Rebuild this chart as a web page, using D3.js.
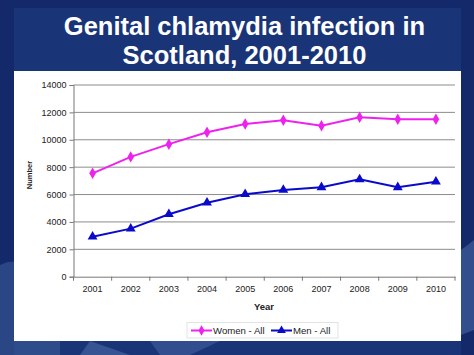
<!DOCTYPE html>
<html><head><meta charset="utf-8">
<script src="https://cdn.jsdelivr.net/npm/d3@7"></script>
<style>body{margin:0;background:#14306f;}svg{display:block;}</style>
</head><body>
<svg id="c" width="474" height="355"></svg>
<script>
const years = ["2001","2002","2003","2004","2005","2006","2007","2008","2009","2010"];
const women = [7550, 8750, 9680, 10550, 11150, 11420, 11030, 11650, 11500, 11500];
const men = [2920, 3510, 4560, 5400, 6020, 6330, 6530, 7110, 6530, 6940];
const yTicks = [0, 2000, 4000, 6000, 8000, 10000, 12000, 14000];
const titleLines = ["Genital chlamydia infection in", "Scotland, 2001-2010"];

const svg = d3.select("#c");
const W = 474, H = 355;
// background
svg.append("rect").attr("width", W).attr("height", H).attr("fill", "#13296a");
svg.append("rect").attr("x", 14).attr("y", 8).attr("width", 447).attr("height", 347).attr("fill", "#1a3577");
// decorative lighter shapes
svg.append("path").attr("d", "M0,265 Q30,250 60,300 L60,355 L0,355 Z").attr("fill", "#3c5a98").attr("opacity", 0.6);
svg.append("path").attr("d", "M90,341 L130,355 L80,355 Z").attr("fill", "#4a68a5").attr("opacity", 0.6);
svg.append("path").attr("d", "M150,341 L220,341 L190,355 L160,355 Z").attr("fill", "#4a68a5").attr("opacity", 0.5);
svg.append("path").attr("d", "M461,250 Q468,245 474,240 L474,330 L461,335 Z").attr("fill", "#4a68a5").attr("opacity", 0.6);

// title
const font = "'Liberation Sans', Arial, sans-serif";
svg.selectAll("text.title").data(titleLines).enter().append("text")
  .attr("x", 244.5).attr("y", (d, i) => 35 + i * 28.5)
  .attr("text-anchor", "middle").attr("fill", "#fff")
  .attr("font-family", font).attr("font-weight", "bold").attr("font-size", 25.5)
  .text(d => d);

// white panel
svg.append("rect").attr("x", 14).attr("y", 71).attr("width", 447).attr("height", 270).attr("fill", "#fff");

const x0 = 73.5, x1 = 455, yTop = 85, yBot = 276.7;
const x = d3.scaleBand().domain(years).range([x0, x1]);
const y = d3.scaleLinear().domain([0, 14000]).range([yBot, yTop]);

const g = svg.append("g");
// gridlines
g.selectAll("line.grid").data(yTicks.filter(t => t > 0)).enter().append("line")
  .attr("x1", x0).attr("x2", x1).attr("y1", d => y(d)).attr("y2", d => y(d))
  .attr("stroke", "#8c8c8c").attr("stroke-width", 1);

// y axis
const yAxis = d3.axisLeft(y).tickValues(yTicks).tickSize(4).tickPadding(3).tickFormat(d3.format("d"));
const ya = g.append("g").attr("transform", `translate(${x0},0)`).call(yAxis);
ya.select(".domain").attr("stroke", "#777");
ya.selectAll(".tick line").attr("stroke", "#777");
ya.selectAll("text").attr("font-family", font).attr("font-size", 9).attr("fill", "#222");

// x axis
const xAxis = d3.axisBottom(x).tickSize(0).tickPadding(9);
const xa = g.append("g").attr("transform", `translate(0,${yBot})`).call(xAxis);
xa.select(".domain").attr("stroke", "#777");
xa.selectAll("text").attr("font-family", font).attr("font-size", 9).attr("fill", "#222");
// x tick marks at band boundaries
const bounds = years.map(d => x(d)).concat([x1]);
xa.selectAll("line.bt").data(bounds).enter().append("line")
  .attr("x1", d => d).attr("x2", d => d).attr("y1", 0).attr("y2", 4).attr("stroke", "#777");

// axis titles
svg.append("text").attr("x", 264).attr("y", 309.5).attr("text-anchor", "middle")
  .attr("font-family", font).attr("font-weight", "bold").attr("font-size", 9.5).attr("fill", "#222").text("Year");
svg.append("text").attr("transform", "translate(31.5,175) rotate(-90)").attr("text-anchor", "middle")
  .attr("font-family", font).attr("font-weight", "bold").attr("font-size", 7.5).attr("fill", "#222").text("Number");

const cx = d => x(d) + x.bandwidth() / 2;
const line = d3.line().x(d => cx(d.year)).y(d => y(d.v));
const series = [
  {name: "Women - All", color: "#ee22ee", sym: d3.symbolDiamond, size: 38, data: years.map((yr, i) => ({year: yr, v: women[i]}))},
  {name: "Men - All", color: "#0a0acc", sym: d3.symbolTriangle, size: 42, data: years.map((yr, i) => ({year: yr, v: men[i]}))}
];
series.forEach(s => {
  g.append("path").datum(s.data).attr("d", line).attr("fill", "none")
    .attr("stroke", s.color).attr("stroke-width", 2);
  g.selectAll(null).data(s.data).enter().append("path")
    .attr("d", d3.symbol().type(s.sym).size(s.size))
    .attr("transform", d => `translate(${cx(d.year)},${y(d.v)})`)
    .attr("fill", s.color);
});

// legend
const lg = svg.append("g");
const ly = 330.5;
lg.append("rect").attr("x", 187).attr("y", ly - 8).attr("width", 151).attr("height", 15.5)
  .attr("fill", "#fff").attr("stroke", "#ddd").attr("stroke-width", 0.8);
const lx = [191, 271];
series.forEach((s, i) => {
  const ox = lx[i];
  lg.append("line").attr("x1", ox).attr("x2", ox + 21).attr("y1", ly).attr("y2", ly)
    .attr("stroke", s.color).attr("stroke-width", 2);
  lg.append("path").attr("d", d3.symbol().type(s.sym).size(s.size * 0.8))
    .attr("transform", `translate(${ox + 10.5},${ly})`).attr("fill", s.color);
  lg.append("text").attr("x", ox + 22).attr("y", ly + 3.3)
    .attr("font-family", font).attr("font-size", 9.6).attr("fill", "#222").text(s.name);
});
</script>
</body></html>
